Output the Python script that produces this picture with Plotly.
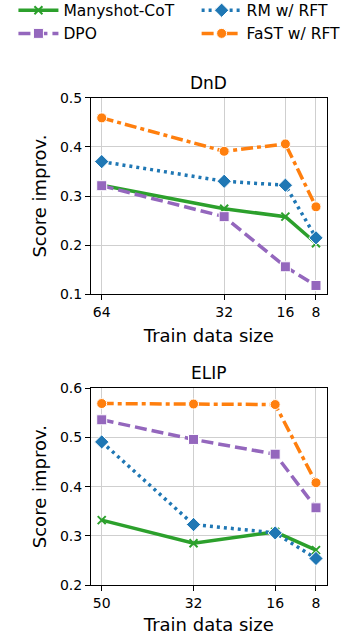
import plotly.graph_objects as go

dnd_x = [64, 32, 16, 8]
elip_x = [50, 32, 16, 8]

series_names = ["Manyshot-CoT", "DPO", "RM w/ RFT", "FaST w/ RFT"]

dnd_manyshot = [0.322, 0.274, 0.258, 0.204]
dnd_rm = [0.370, 0.330, 0.322, 0.215]
dnd_dpo = [0.321, 0.258, 0.156, 0.118]
dnd_fast = [0.459, 0.391, 0.406, 0.278]

elip_manyshot = [0.332, 0.285, 0.308, 0.271]
elip_rm = [0.491, 0.323, 0.306, 0.254]
elip_dpo = [0.536, 0.496, 0.466, 0.357]
elip_fast = [0.569, 0.568, 0.567, 0.408]

colors = {"Manyshot-CoT": "#2ca02c", "RM w/ RFT": "#1f77b4",
          "DPO": "#9467bd", "FaST w/ RFT": "#ff7f0e"}
dashes = {"Manyshot-CoT": "solid", "RM w/ RFT": "3px,4px",
          "DPO": "12px,5px", "FaST w/ RFT": "12px,4px,4px,4px"}
symbols = {"Manyshot-CoT": "x-thin", "RM w/ RFT": "diamond",
           "DPO": "square", "FaST w/ RFT": "circle"}
sizes = {"Manyshot-CoT": 8, "RM w/ RFT": 11, "DPO": 10, "FaST w/ RFT": 10}
legend_of = {"Manyshot-CoT": "legend", "DPO": "legend",
             "RM w/ RFT": "legend2", "FaST w/ RFT": "legend2"}

dnd_vals = {"Manyshot-CoT": dnd_manyshot, "RM w/ RFT": dnd_rm,
            "DPO": dnd_dpo, "FaST w/ RFT": dnd_fast}
elip_vals = {"Manyshot-CoT": elip_manyshot, "RM w/ RFT": elip_rm,
             "DPO": elip_dpo, "FaST w/ RFT": elip_fast}

fig = go.Figure()

def add(name, xs, ys, xa, ya, show):
    c = colors[name]
    if name == "Manyshot-CoT":
        marker = dict(symbol="x-thin", size=8, color=c,
                      line=dict(color=c, width=2))
    else:
        marker = dict(symbol=symbols[name], size=sizes[name], color=c,
                      line=dict(color="white", width=1))
    fig.add_trace(go.Scatter(
        x=xs, y=ys, name=name, mode="lines+markers",
        line=dict(color=c, width=3.5, dash=dashes[name]),
        marker=marker, xaxis=xa, yaxis=ya, showlegend=show,
        legendgroup=name, legend=legend_of[name]))

for n in series_names:
    add(n, dnd_x, dnd_vals[n], "x", "y", True)
for n in series_names:
    add(n, elip_x, elip_vals[n], "x2", "y2", False)

font = "DejaVu Sans, Liberation Sans, sans-serif"
axis_common = dict(showline=True, linecolor="black", linewidth=1, mirror=True,
                   ticks="outside", ticklen=5, tickcolor="black",
                   showgrid=True, gridcolor="#cfcfcf", gridwidth=1,
                   zeroline=False, automargin=False,
                   tickfont=dict(size=14, color="black", family=font),
                   title_font=dict(size=18, color="black", family=font))

leg_common = dict(orientation="v", yanchor="top", xanchor="left",
                  font=dict(size=15.5, family=font, color="black"),
                  bgcolor="rgba(0,0,0,0)", tracegroupgap=0, itemwidth=40)

fig.update_layout(
    width=348, height=635,
    margin=dict(l=0, r=0, t=0, b=0, autoexpand=False),
    paper_bgcolor="white", plot_bgcolor="white",
    font=dict(family=font, color="black"),
    xaxis=dict(domain=[0.2615, 0.9388], anchor="y", range=[66.8, 5.2],
               tickvals=dnd_x, ticktext=[str(v) for v in dnd_x],
               title=dict(text="Train data size", standoff=10), **axis_common),
    yaxis=dict(domain=[0.5365, 0.8461], anchor="x", range=[0.1, 0.5],
               tickvals=[0.1, 0.2, 0.3, 0.4, 0.5], ticktext=["0.1", "0.2", "0.3", "0.4", "0.5"],
               title=dict(text="Score improv.", standoff=8), **axis_common),
    xaxis2=dict(domain=[0.2615, 0.9388], anchor="y2", range=[52.1, 5.9],
                tickvals=elip_x, ticktext=[str(v) for v in elip_x],
                title=dict(text="Train data size", standoff=10), **axis_common),
    yaxis2=dict(domain=[0.0787, 0.3885], anchor="x2", range=[0.2, 0.6],
                tickvals=[0.2, 0.3, 0.4, 0.5, 0.6], ticktext=["0.2", "0.3", "0.4", "0.5", "0.6"],
                title=dict(text="Score improv.", standoff=8), **axis_common),
    legend=dict(x=0.0386, y=1.01, **leg_common),
    legend2=dict(x=0.565, y=1.01, **leg_common),
    annotations=[
        dict(text="DnD", x=0.6, y=0.8461, xref="paper", yref="paper",
             xanchor="center", yanchor="bottom", yshift=3, showarrow=False,
             font=dict(size=17, family=font, color="black")),
        dict(text="ELIP", x=0.6, y=0.3885, xref="paper", yref="paper",
             xanchor="center", yanchor="bottom", yshift=3, showarrow=False,
             font=dict(size=17, family=font, color="black")),
    ],
)

fig.write_html("out.html", post_script="document.body.style.margin='0px';",
               config={"displayModeBar": False})
